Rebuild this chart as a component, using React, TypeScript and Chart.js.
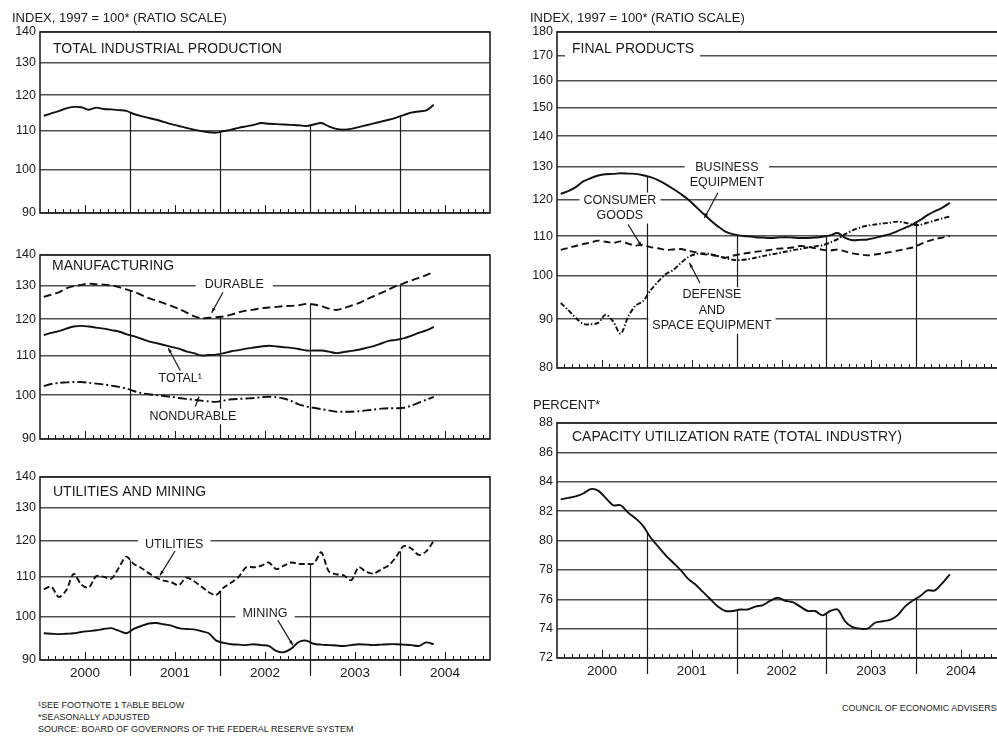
import React, { useEffect, useRef } from 'react';
import { Chart, registerables } from 'chart.js';
Chart.register(...registerables);

const FONT = "'Liberation Sans', Arial, sans-serif";
Chart.defaults.font.family = FONT;

// Monthly data, Jan 2000 .. May 2004 (53 months)
const yearLabels = ['2000', '2001', '2002', '2003', '2004'];

const totalIP = [114.1,114.8,115.4,116.2,116.6,116.5,115.8,116.4,116.0,115.9,115.7,115.5,
  114.6,114.0,113.5,113.0,112.4,111.8,111.3,110.8,110.3,109.9,109.6,109.5,
  109.9,110.3,110.8,111.2,111.6,112.1,111.9,111.8,111.7,111.6,111.5,111.3,
  111.7,112.1,111.2,110.5,110.3,110.5,111.0,111.5,112.0,112.5,113.0,113.6,
  114.3,115.0,115.3,115.6,117.2];

const mfgDurable = [126.6,127.3,128.0,129.2,129.9,130.3,130.7,130.5,130.4,130.1,129.6,128.9,
  128.2,127.2,126.2,125.5,124.7,123.9,123.0,122.0,120.9,120.3,120.4,120.6,
  120.8,121.3,122.0,122.5,122.8,123.2,123.4,123.6,123.8,123.9,124.1,124.5,
  124.3,123.8,123.1,122.7,123.2,124.0,124.7,125.8,126.8,127.8,128.9,130.0,
  130.8,131.7,132.5,133.4,134.4];

const mfgTotal = [115.5,116.1,116.6,117.3,117.9,118.1,117.9,117.6,117.3,116.9,116.5,115.8,
  115.2,114.5,113.8,113.3,112.8,112.3,111.8,111.1,110.6,110.0,110.1,110.2,
  110.6,111.1,111.4,111.8,112.1,112.4,112.6,112.4,112.2,112.0,111.7,111.3,
  111.3,111.3,111.0,110.6,110.9,111.2,111.5,112.0,112.5,113.2,113.9,114.2,
  114.6,115.3,116.1,116.8,117.8];

const mfgNondurable = [102.2,102.7,103.0,103.1,103.2,103.2,103.0,102.8,102.6,102.3,102.0,101.6,
  101.0,100.5,100.2,100.0,99.8,99.6,99.3,99.1,98.9,98.7,98.5,98.4,
  98.7,99.0,99.1,99.2,99.3,99.5,99.6,99.5,99.2,98.6,97.8,97.3,
  97.0,96.7,96.4,96.1,96.1,96.1,96.2,96.4,96.6,96.8,96.9,96.9,
  97.0,97.5,98.2,98.9,99.6];

const utilities = [106.8,107.4,104.8,106.5,110.8,108.0,107.2,110.2,110.0,109.5,112.4,115.5,
  113.5,112.4,111.0,109.8,109.0,108.6,107.8,109.8,108.9,107.5,106.0,105.3,
  107.2,108.5,110.0,112.6,112.6,113.0,113.9,112.1,113.0,113.9,113.5,113.5,
  113.6,116.7,111.5,110.7,110.4,109.1,112.6,111.3,110.9,112.0,113.1,115.5,
  118.5,117.8,116.0,117.0,120.0];

const mining = [96.0,95.9,95.8,95.9,96.0,96.3,96.5,96.7,97.0,97.2,96.6,96.0,
  97.0,97.7,98.3,98.4,98.1,97.8,97.2,97.0,96.9,96.5,96.0,94.3,
  93.8,93.5,93.4,93.3,93.5,93.3,93.1,92.0,91.7,92.5,94.0,94.3,
  93.6,93.4,93.3,93.2,93.1,93.3,93.5,93.4,93.3,93.4,93.5,93.5,
  93.4,93.3,93.1,93.9,93.5];

const businessEquipment = [121.8,122.6,123.8,125.5,126.5,127.3,127.7,127.8,128.0,127.9,127.8,127.4,
  126.8,125.9,124.7,123.3,121.8,120.2,118.2,116.2,114.3,112.6,111.2,110.5,
  110.1,109.9,109.7,109.6,109.5,109.6,109.7,109.6,109.5,109.5,109.6,109.8,
  110.2,110.8,109.5,108.9,109.0,109.1,109.5,110.0,110.5,111.3,112.2,113.1,
  114.3,115.7,116.8,117.8,119.2];

const consumerGoods = [106.4,106.9,107.4,107.9,108.3,108.8,108.5,108.2,108.6,108.0,107.5,107.7,
  107.1,106.8,106.4,106.5,106.6,106.2,105.8,105.3,105.1,104.8,104.4,104.9,
  105.3,105.6,105.9,106.1,106.4,106.7,106.8,107.0,107.4,107.2,106.8,106.4,
  106.2,106.5,106.0,105.5,105.2,105.0,105.2,105.5,105.8,106.2,106.6,107.0,
  107.8,108.6,109.2,109.6,110.0];

const defenseSpace = [93.6,92.0,90.3,89.0,88.9,89.2,91.0,89.5,86.9,90.5,93.0,94.0,
  96.5,98.5,100.3,101.3,103.0,104.5,105.3,105.5,105.3,104.8,104.3,103.9,
  103.8,104.0,104.4,104.8,105.2,105.5,105.9,106.3,106.6,107.0,107.3,107.6,
  108.3,109.2,110.5,111.5,112.3,112.8,113.1,113.4,113.6,113.9,113.6,113.1,
  113.0,113.6,114.2,114.8,115.3];

const capacityUtilization = [82.8,82.9,83.0,83.2,83.5,83.4,82.9,82.4,82.4,81.9,81.5,81.0,
  80.2,79.6,79.0,78.5,78.0,77.4,77.0,76.5,76.0,75.5,75.2,75.2,
  75.3,75.3,75.5,75.6,75.9,76.1,75.9,75.8,75.5,75.2,75.2,74.9,
  75.2,75.3,74.5,74.1,74.0,74.0,74.4,74.5,74.6,74.9,75.5,75.9,
  76.2,76.6,76.6,77.1,77.7];

const ticksIndexLeft = [90, 100, 110, 120, 130, 140];
const ticksFinal = [80, 90, 100, 110, 120, 130, 140, 150, 160, 170, 180];
const ticksPercent = [72, 74, 76, 78, 80, 82, 84, 86, 88];

type Series = { data: number[]; dash?: number[] };
type Label = { lines: string[]; m: number; v: number; padX?: number };
type PanelCfg = {
  left: number; top: number; w: number; h: number;
  pad: { top: number; right: number; bottom: number };
  yType: 'logarithmic' | 'linear'; yMin: number; yMax: number; yTicks: number[];
  series: Series[];
  title: string; titleDx: number; titleDy: number;
  labels: Label[];
  arrows: number[][];
  yearLabels: boolean;
};

const panels: PanelCfg[] = [
  {
    left: 0, top: 0, w: 500, h: 230, pad: { top: 32, right: 10, bottom: 17 },
    yType: 'logarithmic', yMin: 90, yMax: 140, yTicks: ticksIndexLeft,
    series: [{ data: totalIP }],
    title: 'TOTAL INDUSTRIAL PRODUCTION', titleDx: 13, titleDy: 17,
    labels: [], arrows: [], yearLabels: false,
  },
  {
    left: 0, top: 230, w: 500, h: 225, pad: { top: 25, right: 10, bottom: 16 },
    yType: 'logarithmic', yMin: 90, yMax: 140, yTicks: ticksIndexLeft,
    series: [{ data: mfgDurable, dash: [8, 4] }, { data: mfgTotal }, { data: mfgNondurable, dash: [9, 3, 2, 3] }],
    title: 'MANUFACTURING', titleDx: 12, titleDy: 11,
    labels: [
      { lines: ['DURABLE'], m: 25.9, v: 130.3, padX: 9 },
      { lines: ['TOTAL¹'], m: 18.7, v: 104.0, padX: 2 },
      { lines: ['NONDURABLE'], m: 20.4, v: 95.0, padX: 2 },
    ],
    arrows: [[24.4, 128.0, 22.9, 121.9], [18.7, 106.1, 17.1, 112.0], [20.7, 97.3, 21.2, 99.6]],
    yearLabels: false,
  },
  {
    left: 0, top: 455, w: 500, h: 235, pad: { top: 22, right: 10, bottom: 30 },
    yType: 'logarithmic', yMin: 90, yMax: 140, yTicks: ticksIndexLeft,
    series: [{ data: utilities, dash: [6, 3] }, { data: mining }],
    title: 'UTILITIES AND MINING', titleDx: 13, titleDy: 15,
    labels: [
      { lines: ['UTILITIES'], m: 17.9, v: 118.9, padX: 7 },
      { lines: ['MINING'], m: 30, v: 100.6, padX: 7 },
    ],
    arrows: [[18.0, 117.1, 16.0, 110.4], [31.7, 99.1, 33.7, 93.3]],
    yearLabels: true,
  },
  {
    left: 517, top: 0, w: 492, h: 380, pad: { top: 32, right: 3, bottom: 12 },
    yType: 'logarithmic', yMin: 80, yMax: 180, yTicks: ticksFinal,
    series: [{ data: businessEquipment }, { data: consumerGoods, dash: [7, 4] }, { data: defenseSpace, dash: [5, 2, 1.5, 2] }],
    title: 'FINAL PRODUCTS', titleDx: 15, titleDy: 17,
    labels: [
      { lines: ['BUSINESS', 'EQUIPMENT'], m: 22.7, v: 127.4, padX: 5 },
      { lines: ['CONSUMER', 'GOODS'], m: 8.4, v: 117.7, padX: 4 },
      { lines: ['DEFENSE', 'AND', 'SPACE EQUIPMENT'], m: 20.7, v: 91.9, padX: 4 },
    ],
    arrows: [[21.5, 122.1, 19.7, 114.9], [9.5, 113.1, 11.3, 107.3], [19.1, 98.2, 17.7, 103.1]],
    yearLabels: false,
  },
  {
    left: 517, top: 380, w: 492, h: 310, pad: { top: 43, right: 3, bottom: 32 },
    yType: 'linear', yMin: 72, yMax: 88, yTicks: ticksPercent,
    series: [{ data: capacityUtilization }],
    title: 'CAPACITY UTILIZATION RATE (TOTAL INDUSTRY)', titleDx: 15, titleDy: 14.5,
    labels: [], arrows: [], yearLabels: true,
  },
];

function makeDecor(cfg: PanelCfg) {
  return {
    id: 'decor',
    beforeDatasetsDraw(chart: any) {
      const { ctx, chartArea: a, scales } = chart;
      const x = scales.x, y = scales.y;
      ctx.save();
      ctx.strokeStyle = '#1a1a1a';
      ctx.fillStyle = '#1a1a1a';
      // monthly ticks
      ctx.lineWidth = 1;
      for (let k = 1; k < 60; k++) {
        if (k % 12 === 0) continue;
        const px = Math.round(x.getPixelForValue(k)) + 0.5;
        const h = k % 12 === 6 ? 8 : 4;
        ctx.beginPath();
        ctx.moveTo(px, a.bottom);
        ctx.lineTo(px, a.bottom - h);
        ctx.stroke();
      }
      // year boundary lines up to the highest series
      ctx.lineWidth = 1.2;
      for (let k = 1; k <= 4; k++) {
        const m = 12 * k;
        let top = -Infinity;
        cfg.series.forEach((s) => {
          const v0 = s.data[m - 1], v1 = s.data[m];
          if (v0 != null && v1 != null) top = Math.max(top, (v0 + v1) / 2);
        });
        const px = Math.round(x.getPixelForValue(m)) + 0.5;
        ctx.beginPath();
        ctx.moveTo(px, a.bottom + (cfg.yearLabels ? 16 : 0));
        ctx.lineTo(px, y.getPixelForValue(top));
        ctx.stroke();
      }
      // title
      ctx.font = `14px ${FONT}`;
      ctx.textBaseline = 'middle';
      ctx.textAlign = 'left';
      const tx = a.left + cfg.titleDx, ty = a.top + cfg.titleDy;
      const tw = ctx.measureText(cfg.title).width;
      ctx.fillStyle = '#fff';
      ctx.fillRect(tx - 7, ty - 9, tw + 13, 18);
      ctx.fillStyle = '#1a1a1a';
      ctx.fillText(cfg.title, tx, ty);
      // labels
      ctx.font = `12.5px ${FONT}`;
      ctx.textAlign = 'center';
      const lh = 15.5;
      cfg.labels.forEach((L) => {
        const cx = x.getPixelForValue(L.m), cy = y.getPixelForValue(L.v);
        const wmax = Math.max(...L.lines.map((s) => ctx.measureText(s).width));
        const hh = L.lines.length * lh;
        const px = L.padX ?? 6;
        ctx.fillStyle = '#fff';
        ctx.fillRect(cx - wmax / 2 - px, cy - hh / 2, wmax + 2 * px, hh);
        ctx.fillStyle = '#1a1a1a';
        L.lines.forEach((s, i) => {
          ctx.fillText(s, cx, cy - hh / 2 + lh * (i + 0.5));
        });
      });
      // arrows
      ctx.lineWidth = 1.2;
      cfg.arrows.forEach(([m1, v1, m2, v2]) => {
        const x1 = x.getPixelForValue(m1), y1 = y.getPixelForValue(v1);
        const x2 = x.getPixelForValue(m2), y2 = y.getPixelForValue(v2);
        ctx.beginPath();
        ctx.moveTo(x1, y1);
        ctx.lineTo(x2, y2);
        ctx.stroke();
        const ang = Math.atan2(y2 - y1, x2 - x1);
        ctx.beginPath();
        ctx.moveTo(x2, y2);
        ctx.lineTo(x2 - 5 * Math.cos(ang - 0.35), y2 - 5 * Math.sin(ang - 0.35));
        ctx.lineTo(x2 - 5 * Math.cos(ang + 0.35), y2 - 5 * Math.sin(ang + 0.35));
        ctx.closePath();
        ctx.fill();
      });
      // year labels
      if (cfg.yearLabels) {
        ctx.font = `13.5px ${FONT}`;
        ctx.textAlign = 'center';
        yearLabels.forEach((yl, i) => {
          ctx.fillText(yl, x.getPixelForValue(12 * i + 6), a.bottom + 13);
        });
      }
      // frame
      ctx.lineWidth = 1.6;
      ctx.strokeStyle = '#222';
      ctx.strokeRect(a.left, a.top, a.right - a.left, a.bottom - a.top);
      ctx.restore();
    },
  };
}

function Panel({ cfg }: { cfg: PanelCfg }) {
  const ref = useRef<HTMLCanvasElement>(null);
  useEffect(() => {
    const chart = new Chart(ref.current as HTMLCanvasElement, {
      type: 'line',
      data: {
        datasets: cfg.series.map((s) => ({
          data: s.data.map((v, i) => ({ x: i + 0.5, y: v })),
          borderColor: '#111',
          borderWidth: 1.9,
          borderDash: s.dash || [],
          pointRadius: 0,
          tension: 0.3,
          fill: false,
        })),
      },
      options: {
        responsive: false,
        animation: false,
        events: [],
        layout: { padding: { left: 0, right: cfg.pad.right, top: cfg.pad.top, bottom: cfg.pad.bottom } },
        plugins: { legend: { display: false }, tooltip: { enabled: false } },
        scales: {
          x: { type: 'linear', min: 0, max: 60, display: false },
          y: {
            type: cfg.yType,
            min: cfg.yMin,
            max: cfg.yMax,
            afterBuildTicks: (ax: any) => { ax.ticks = cfg.yTicks.map((v) => ({ value: v })); },
            afterFit: (ax: any) => { ax.width = 40; ax.paddingTop = 0; ax.paddingBottom = 0; },
            ticks: {
              callback: (v: any) => String(v),
              padding: 4,
              color: '#1a1a1a',
              autoSkip: false,
              font: { size: 12.5, family: FONT },
            },
            grid: { color: '#505050', lineWidth: 1.5, drawTicks: false },
            border: { display: false },
          },
        },
      } as any,
      plugins: [makeDecor(cfg)],
    });
    return () => chart.destroy();
  }, []);
  return (
    <canvas
      ref={ref}
      width={cfg.w}
      height={cfg.h}
      style={{ position: 'absolute', left: cfg.left, top: cfg.top, width: cfg.w, height: cfg.h }}
    />
  );
}

const txt: React.CSSProperties = { position: 'absolute', whiteSpace: 'nowrap', color: '#1a1a1a', fontFamily: FONT };

export default function App() {
  return (
    <div style={{ position: 'fixed', left: 0, top: 0, width: 997, height: 739, overflow: 'hidden', background: '#fff' }}>
      {panels.map((p, i) => <Panel key={i} cfg={p} />)}
      <div style={{ ...txt, left: 12, top: 10, fontSize: 13, lineHeight: '16px' }}>INDEX, 1997 = 100* (RATIO SCALE)</div>
      <div style={{ ...txt, left: 530, top: 10, fontSize: 13, lineHeight: '16px' }}>INDEX, 1997 = 100* (RATIO SCALE)</div>
      <div style={{ ...txt, left: 533, top: 397, fontSize: 13, lineHeight: '16px' }}>PERCENT*</div>
      <div style={{ ...txt, left: 38, top: 699, fontSize: 9, lineHeight: '12px' }}>
        <div>¹SEE FOOTNOTE 1 TABLE BELOW</div>
        <div>*SEASONALLY ADJUSTED</div>
        <div>SOURCE: BOARD OF GOVERNORS OF THE FEDERAL RESERVE SYSTEM</div>
      </div>
      <div style={{ ...txt, left: 842, top: 702, fontSize: 9, lineHeight: '12px' }}>COUNCIL OF ECONOMIC ADVISERS</div>
    </div>
  );
}
